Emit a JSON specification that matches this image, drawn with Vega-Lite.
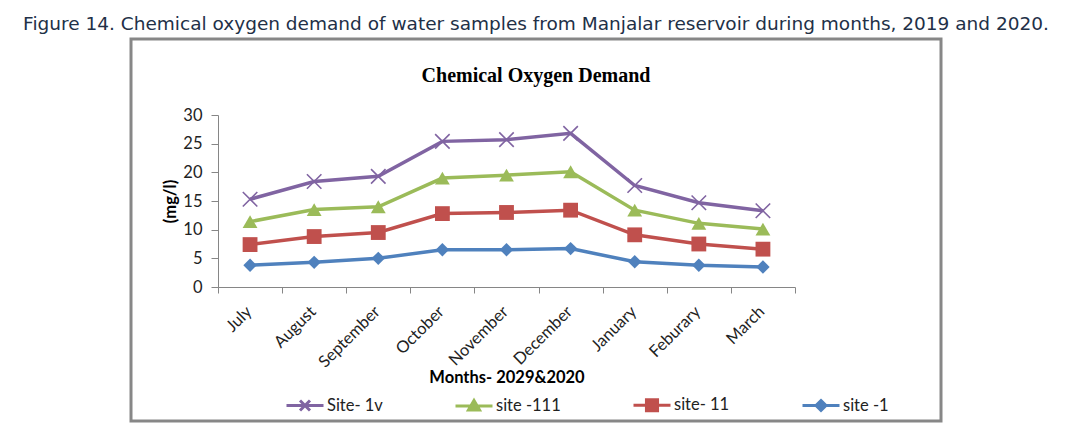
{
  "$schema": "https://vega.github.io/schema/vega-lite/v6.json",
  "autosize": "none",
  "width": 810,
  "height": 382,
  "padding": {"left": 131, "top": 39, "right": 124, "bottom": 13},
  "background": "white",
  "title": {
    "text": "Figure 14. Chemical oxygen demand of water samples from Manjalar reservoir during months, 2019 and 2020.",
    "subtitle": "Chemical Oxygen Demand",
    "anchor": "middle",
    "frame": "group",
    "offset": -47,
    "font": "DejaVu Sans",
    "fontSize": 18.5,
    "fontWeight": "normal",
    "color": "#223047",
    "subtitleFont": "Liberation Serif",
    "subtitleFontSize": 20,
    "subtitleFontWeight": "bold",
    "subtitleColor": "#000000",
    "subtitlePadding": 33
  },
  "data": {
    "values": [
      {"month": "July", "site": "Site- 1v", "cod": 15.3},
      {"month": "August", "site": "Site- 1v", "cod": 18.4},
      {"month": "September", "site": "Site- 1v", "cod": 19.3},
      {"month": "October", "site": "Site- 1v", "cod": 25.4},
      {"month": "November", "site": "Site- 1v", "cod": 25.7},
      {"month": "December", "site": "Site- 1v", "cod": 26.8},
      {"month": "January", "site": "Site- 1v", "cod": 17.7},
      {"month": "Feburary", "site": "Site- 1v", "cod": 14.7},
      {"month": "March", "site": "Site- 1v", "cod": 13.3},
      {"month": "July", "site": "site -111", "cod": 11.4},
      {"month": "August", "site": "site -111", "cod": 13.5},
      {"month": "September", "site": "site -111", "cod": 14.0},
      {"month": "October", "site": "site -111", "cod": 19.0},
      {"month": "November", "site": "site -111", "cod": 19.5},
      {"month": "December", "site": "site -111", "cod": 20.1},
      {"month": "January", "site": "site -111", "cod": 13.4},
      {"month": "Feburary", "site": "site -111", "cod": 11.1},
      {"month": "March", "site": "site -111", "cod": 10.1},
      {"month": "July", "site": "site- 11", "cod": 7.4},
      {"month": "August", "site": "site- 11", "cod": 8.8},
      {"month": "September", "site": "site- 11", "cod": 9.5},
      {"month": "October", "site": "site- 11", "cod": 12.8},
      {"month": "November", "site": "site- 11", "cod": 13.0},
      {"month": "December", "site": "site- 11", "cod": 13.4},
      {"month": "January", "site": "site- 11", "cod": 9.1},
      {"month": "Feburary", "site": "site- 11", "cod": 7.5},
      {"month": "March", "site": "site- 11", "cod": 6.6},
      {"month": "July", "site": "site -1", "cod": 3.8},
      {"month": "August", "site": "site -1", "cod": 4.3},
      {"month": "September", "site": "site -1", "cod": 5.0},
      {"month": "October", "site": "site -1", "cod": 6.5},
      {"month": "November", "site": "site -1", "cod": 6.5},
      {"month": "December", "site": "site -1", "cod": 6.7},
      {"month": "January", "site": "site -1", "cod": 4.4},
      {"month": "Feburary", "site": "site -1", "cod": 3.8},
      {"month": "March", "site": "site -1", "cod": 3.5}
    ]
  },
  "encoding": {
    "x": {
      "field": "month",
      "type": "nominal",
      "sort": null,
      "bandPosition": 0.5,
      "scale": {"type": "band", "range": [87, 664], "paddingInner": 0, "paddingOuter": 0},
      "axis": {
        "title": "Months- 2029&2020",
        "offset": -134,
        "labelAngle": -45,
        "labelOffset": -7,
        "tickBand": "extent",
        "tickSize": 6,
        "labelPadding": 10,
        "titleY": 82
      }
    },
    "y": {
      "field": "cod",
      "type": "quantitative",
      "scale": {"domain": [0, 30], "range": [248, 76], "nice": false, "zero": true},
      "axis": {
        "title": "(mg/l)",
        "offset": -87,
        "values": [0, 5, 10, 15, 20, 25, 30],
        "tickSize": 7,
        "labelPadding": 9,
        "titlePadding": 4
      }
    }
  },
  "layer": [
    {
      "mark": {"type": "line", "strokeWidth": 3.5},
      "encoding": {
        "color": {
          "field": "site",
          "type": "nominal",
          "scale": {
            "domain": ["Site- 1v", "site -111", "site- 11", "site -1"],
            "range": ["#8064a2", "#9bbb59", "#c0504d", "#4f81bd"]
          }
        }
      }
    },
    {
      "transform": [{"filter": "datum.site == 'Site- 1v'"}],
      "mark": {"type": "point", "shape": "M-1,-1L1,1M-1,1L1,-1", "filled": false, "size": 210, "strokeWidth": 1.6, "color": "#8064a2", "opacity": 1}
    },
    {
      "transform": [{"filter": "datum.site == 'site -111'"}],
      "mark": {"type": "point", "shape": "triangle-up", "filled": true, "size": 220, "color": "#9bbb59", "opacity": 1}
    },
    {
      "transform": [{"filter": "datum.site == 'site- 11'"}],
      "mark": {"type": "point", "shape": "square", "filled": true, "size": 220, "color": "#c0504d", "opacity": 1}
    },
    {
      "transform": [{"filter": "datum.site == 'site -1'"}],
      "mark": {"type": "point", "shape": "diamond", "filled": true, "size": 180, "color": "#4f81bd", "opacity": 1}
    },
    {
      "transform": [{"filter": "false"}],
      "mark": {"type": "point", "filled": true},
      "encoding": {
        "color": {"field": "site", "type": "nominal"},
        "shape": {
          "field": "site",
          "type": "nominal",
          "scale": {
            "domain": ["Site- 1v", "site -111", "site- 11", "site -1"],
            "range": [
              "M-1,0H1M-0.27,-0.27L0.27,0.27M-0.27,0.27L0.27,-0.27",
              "M-1,0H1M0,-0.3L0.3,0.22L-0.3,0.22Z",
              "M-1,0H1M-0.3,-0.3H0.3V0.3H-0.3Z",
              "M-1,0H1M0,-0.27L0.27,0L0,0.27L-0.27,0Z"
            ]
          }
        }
      }
    }
  ],
  "config": {
    "view": {"stroke": "#878787", "strokeWidth": 3},
    "axis": {
      "grid": false,
      "domainColor": "#868686",
      "tickColor": "#868686",
      "labelFont": "Lato",
      "labelFontSize": 16.5,
      "labelColor": "#222222",
      "titleFont": "Lato",
      "titleFontSize": 16.5,
      "titleFontWeight": "bold",
      "titleColor": "#000000"
    },
    "legend": {
      "orient": "none",
      "legendX": 154,
      "legendY": 346,
      "direction": "horizontal",
      "columns": 4,
      "columnPadding": 66,
      "title": null,
      "symbolSize": 1369,
      "symbolStrokeWidth": 3,
      "symbolOpacity": 1,
      "labelFont": "Lato",
      "labelFontSize": 16.5,
      "labelColor": "#222222",
      "labelOffset": 2
    }
  }
}
